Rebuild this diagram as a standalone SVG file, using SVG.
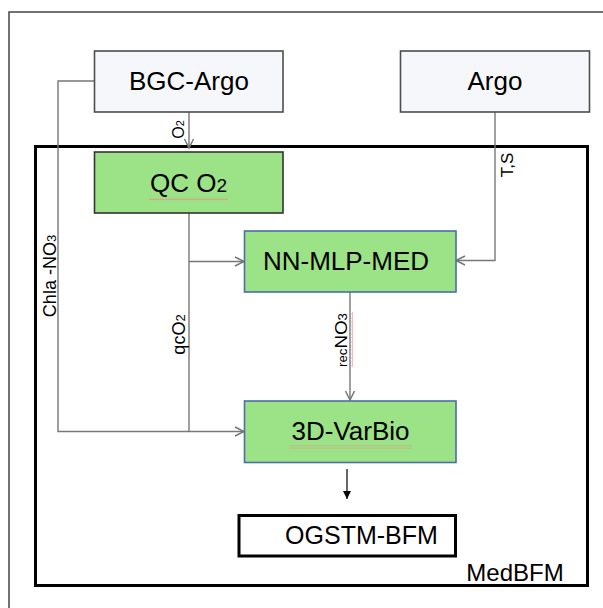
<svg xmlns="http://www.w3.org/2000/svg" width="603" height="608" viewBox="0 0 603 608">
<defs>
<style>
.lbl{font-family:"Liberation Sans",Arial,sans-serif;fill:#000}
.src .box{fill:#f6f7fb;stroke:#4d4d4d;stroke-width:1.6}
.grn .box{fill:#9ce286;stroke:#4a6ea5;stroke-width:1.6}
.con{fill:none;stroke:#777;stroke-width:1.4}
.sq{fill:url(#sqh);stroke:none}
</style>
<marker id="ah" markerUnits="userSpaceOnUse" markerWidth="14" markerHeight="12" refX="11" refY="6" orient="auto">
<path d="M2,1.5 L11,6 L2,10.5" fill="none" stroke="#777" stroke-width="1.5"/>
</marker>
<marker id="ahb" markerUnits="userSpaceOnUse" markerWidth="10" markerHeight="10" refX="8" refY="4" orient="auto">
<path d="M0,0 L8,4 L0,8 Z" fill="#000"/>
</marker>
<pattern id="sqh" patternUnits="userSpaceOnUse" width="4" height="3">
<path d="M0,2.2 L2,0.8 L4,2.2" fill="none" stroke="#e98a8a" stroke-width="0.9"/>
</pattern>
<pattern id="sqv" patternUnits="userSpaceOnUse" width="3" height="4">
<path d="M2.2,0 L0.8,2 L2.2,4" fill="none" stroke="#e98a8a" stroke-width="0.9"/>
</pattern>
</defs>
<rect x="0" y="0" width="603" height="608" fill="#fff"/>
<rect x="9" y="12" width="700" height="700" fill="none" stroke="#444" stroke-width="1.5"/>
<g id="medbfm">
<rect x="35.5" y="146.5" width="552" height="439" fill="none" stroke="#000" stroke-width="3"/>
<text class="lbl" x="515" y="581" font-size="24" text-anchor="middle">MedBFM</text>
</g>
<g id="connectors">
<line class="con" x1="189" y1="112" x2="189" y2="148" marker-end="url(#ah)"/>
<line class="con" x1="189" y1="213" x2="189" y2="432"/>
<line class="con" x1="189" y1="261.5" x2="244" y2="261.5" marker-end="url(#ah)"/>
<path class="con" d="M94,81 H58 V431.5 H244" marker-end="url(#ah)"/>
<path class="con" d="M495,112 V260.5 H456" marker-end="url(#ah)"/>
<line class="con" x1="350" y1="292" x2="350" y2="400" marker-end="url(#ah)"/>
<line x1="347" y1="469" x2="347" y2="499" stroke="#000" stroke-width="1.2" marker-end="url(#ahb)"/>
<text class="lbl" transform="translate(183.5,129.5) rotate(-90)" font-size="16" text-anchor="middle">O<tspan font-size="11">2</tspan></text>
<text class="lbl" transform="translate(56,276) rotate(-90)" font-size="18" text-anchor="middle">Chla -NO<tspan font-size="13">3</tspan></text>
<text class="lbl" transform="translate(184.5,334.5) rotate(-90)" font-size="18" text-anchor="middle">qcO<tspan font-size="13">2</tspan></text>
<text class="lbl" transform="translate(512.5,165) rotate(-90)" font-size="17" text-anchor="middle">T,S</text>
<text class="lbl" transform="translate(346.5,340) rotate(-90)" font-size="17" text-anchor="middle" textLength="54" lengthAdjust="spacingAndGlyphs"><tspan font-size="12">rec</tspan>NO<tspan font-size="12">3</tspan></text>
<rect x="350" y="312" width="3" height="55" fill="url(#sqv)"/>
</g>
<g id="bgc-argo" class="src">
<rect class="box" x="94.5" y="51" width="188.5" height="61"/>
<text class="lbl" x="189" y="90" font-size="26" text-anchor="middle">BGC-Argo</text>
</g>
<g id="argo" class="src">
<rect class="box" x="400.5" y="51" width="189" height="61"/>
<text class="lbl" x="495" y="90" font-size="26" text-anchor="middle">Argo</text>
</g>
<g id="qc-o2">
<rect x="94.5" y="152" width="188.5" height="61" fill="#9ce286" stroke="#333" stroke-width="1.6"/>
<text class="lbl" x="188.5" y="192" font-size="26" text-anchor="middle">QC O<tspan font-size="19">2</tspan></text>
<rect class="sq" x="149" y="197.5" width="79" height="3"/>
</g>
<g id="nn-mlp-med" class="grn">
<rect class="box" x="244.5" y="231" width="211.5" height="61"/>
<text class="lbl" x="346" y="270" font-size="26" text-anchor="middle">NN-MLP-MED</text>
</g>
<g id="3d-varbio" class="grn">
<rect class="box" x="244.5" y="401" width="211.5" height="61.5"/>
<text class="lbl" x="350.5" y="440" font-size="26" text-anchor="middle">3D-VarBio</text>
<rect class="sq" x="289" y="445.5" width="123" height="3"/>
</g>
<g id="ogstm-bfm">
<rect x="239" y="515.5" width="216.5" height="40.5" fill="#fff" stroke="#000" stroke-width="3"/>
<text class="lbl" x="361.5" y="544" font-size="25" text-anchor="middle">OGSTM-BFM</text>
</g>
</svg>
